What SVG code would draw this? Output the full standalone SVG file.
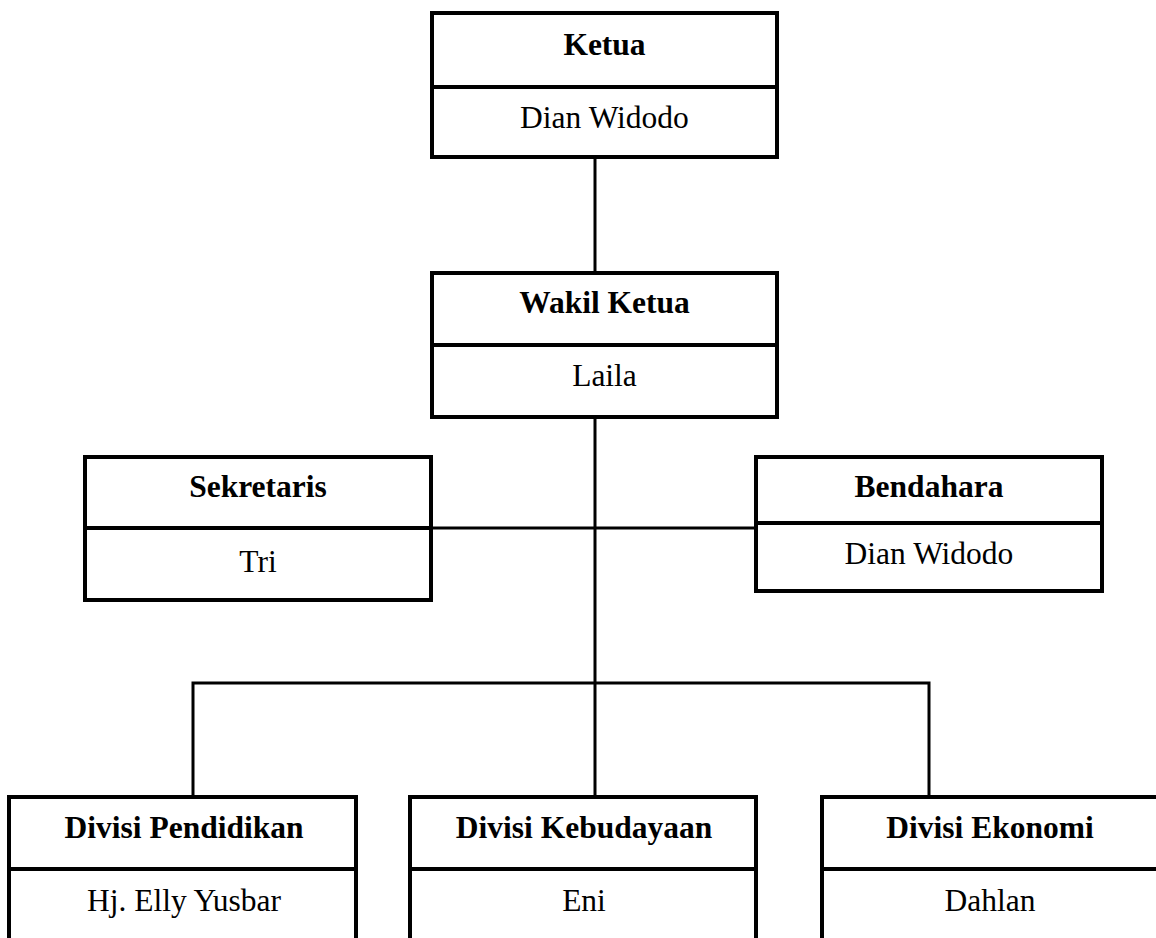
<svg xmlns="http://www.w3.org/2000/svg" width="1156" height="938" viewBox="0 0 1156 938">
<style>
.box{fill:#fff;stroke:#000;stroke-width:4}
.div{stroke:#000;stroke-width:4}
.con{stroke:#000;stroke-width:3;fill:none}
.t{font-family:"Liberation Serif","Times New Roman",serif;font-size:31.5px;text-anchor:middle;fill:#000}
.b{font-weight:bold}
</style>
<rect width="1156" height="938" fill="#fff"/>
<g id="connectors">
<line class="con" x1="595" y1="157" x2="595" y2="273"/>
<line class="con" x1="595" y1="417" x2="595" y2="797"/>
<line class="con" x1="431" y1="528" x2="756" y2="528"/>
<polyline class="con" points="193,797 193,683 929,683 929,797"/>
</g>
<g id="ketua">
<rect class="box" x="432" y="13" width="345" height="144"/>
<line class="div" x1="432" y1="87" x2="777" y2="87"/>
<text class="t b" x="604.5" y="55">Ketua</text>
<text class="t" x="604.5" y="128">Dian Widodo</text>
</g>
<g id="wakil-ketua">
<rect class="box" x="432" y="273" width="345" height="144"/>
<line class="div" x1="432" y1="345" x2="777" y2="345"/>
<text class="t b" x="604.5" y="313">Wakil Ketua</text>
<text class="t" x="604.5" y="386">Laila</text>
</g>
<g id="sekretaris">
<rect class="box" x="85" y="457" width="346" height="143"/>
<line class="div" x1="85" y1="528" x2="431" y2="528"/>
<text class="t b" x="258" y="497">Sekretaris</text>
<text class="t" x="258" y="572">Tri</text>
</g>
<g id="bendahara">
<rect class="box" x="756" y="457" width="346" height="134"/>
<line class="div" x1="756" y1="523" x2="1102" y2="523"/>
<text class="t b" x="929" y="497">Bendahara</text>
<text class="t" x="929" y="564">Dian Widodo</text>
</g>
<g id="divisi-pendidikan">
<rect class="box" x="9" y="797" width="347" height="170"/>
<line class="div" x1="9" y1="869" x2="356" y2="869"/>
<text class="t b" x="184" y="838">Divisi Pendidikan</text>
<text class="t" x="184" y="911">Hj. Elly Yusbar</text>
</g>
<g id="divisi-kebudayaan">
<rect class="box" x="410" y="797" width="346" height="170"/>
<line class="div" x1="410" y1="869" x2="756" y2="869"/>
<text class="t b" x="584" y="838">Divisi Kebudayaan</text>
<text class="t" x="584" y="911">Eni</text>
</g>
<g id="divisi-ekonomi">
<rect class="box" x="822" y="797" width="336" height="170"/>
<line class="div" x1="822" y1="869" x2="1158" y2="869"/>
<text class="t b" x="990" y="838">Divisi Ekonomi</text>
<text class="t" x="990" y="911">Dahlan</text>
</g>
</svg>
